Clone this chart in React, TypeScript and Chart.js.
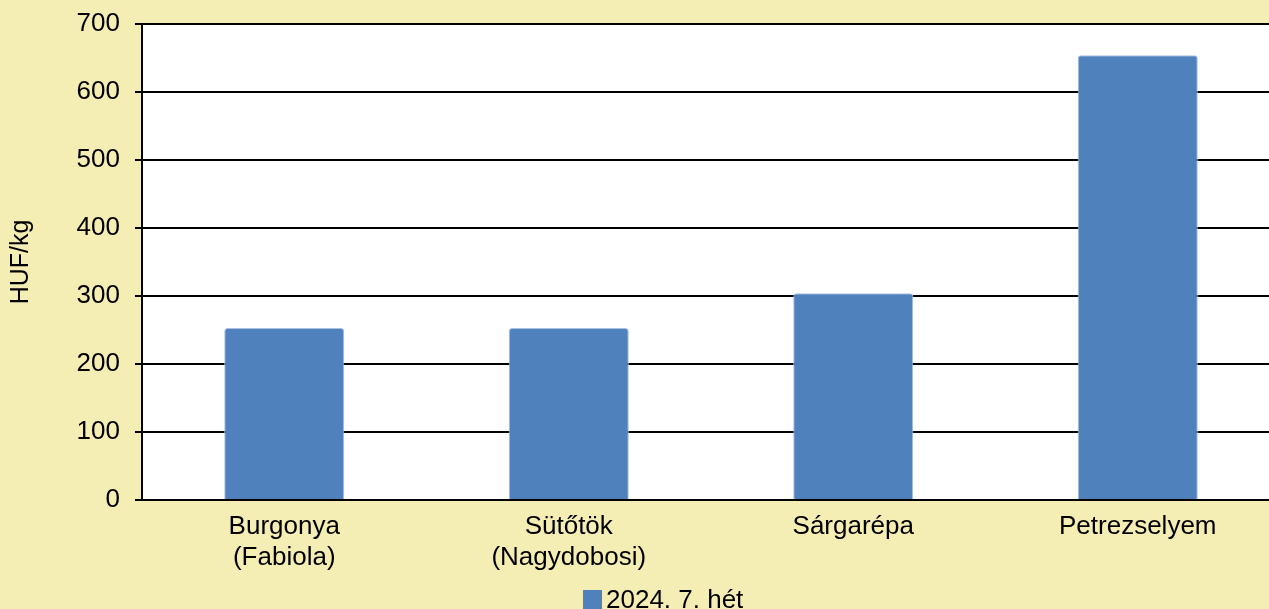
import React, { useEffect, useRef } from 'react';
import { Chart, registerables } from 'chart.js';

Chart.register(...registerables);

const categories: (string | string[])[] = [
  ['Burgonya', '(Fabiola)'],
  ['Sütőtök', '(Nagydobosi)'],
  'Sárgarépa',
  'Petrezselyem',
];
const seriesLabel = '2024. 7. hét';
const seriesValues = [253, 253, 304, 654];
const yMin = 0;
const yMax = 700;
const yStep = 100;
const yTitle = 'HUF/kg';

const BG = '#F5EEB4';
const BAR = '#4F81BD';
const FONT = "'Liberation Sans', Arial, sans-serif";

const areaPlugin = {
  id: 'areaBg',
  beforeDraw(chart: any) {
    const { ctx, chartArea } = chart;
    const { left, top, right, bottom } = chartArea;
    ctx.save();
    ctx.fillStyle = '#FFFFFF';
    ctx.fillRect(left, top, right - left, bottom - top);
    ctx.restore();
  },
};

// Legend drawn by hand so that the swatch sits close to its label, as in the reference
const legendPlugin = {
  id: 'bottomLegend',
  afterDraw(chart: any) {
    const { ctx, width, height } = chart;
    const ds = chart.data.datasets[0];
    const box = 19;
    const gap = 4;
    ctx.save();
    ctx.font = `26px ${FONT}`;
    const tw = ctx.measureText(ds.label).width;
    const total = box + gap + tw;
    const x0 = Math.round(width / 2 - total / 2 + 23);
    ctx.fillStyle = ds.backgroundColor;
    ctx.fillRect(x0, height - 19, box, box);
    ctx.fillStyle = '#000';
    ctx.textBaseline = 'alphabetic';
    ctx.textAlign = 'left';
    ctx.fillText(ds.label, x0 + box + gap, height - 1);
    ctx.restore();
  },
};

export default function App() {
  const ref = useRef<HTMLCanvasElement | null>(null);

  useEffect(() => {
    if (!ref.current) return;
    const chart = new Chart(ref.current, {
      type: 'bar',
      data: {
        labels: categories as any,
        datasets: [
          {
            label: seriesLabel,
            data: seriesValues,
            backgroundColor: BAR,
            borderColor: '#A9C1DF',
            borderWidth: 1,
            borderRadius: 3,
            categoryPercentage: 1,
            barPercentage: 0.422,
          },
        ],
      },
      options: {
        animation: false,
        responsive: false,
        devicePixelRatio: 1,
        layout: { padding: { top: 24, right: 0, bottom: 0, left: 0 } },
        plugins: {
          tooltip: { enabled: false },
          title: { display: false },
          legend: { display: false },
        },
        scales: {
          x: {
            grid: { display: false, drawTicks: false },
            border: { display: true, color: '#000', width: 2 },
            ticks: {
              color: '#000',
              font: { family: FONT, size: 26 },
              padding: 11,
              maxRotation: 0,
              autoSkip: false,
            },
            afterFit(scale: any) {
              scale.height = 109;
              scale.paddingLeft = 0;
              scale.paddingRight = 0;
            },
          },
          y: {
            min: yMin,
            max: yMax,
            ticks: {
              stepSize: yStep,
              color: '#000',
              font: { family: FONT, size: 26 },
              padding: 15,
            },
            grid: {
              color: '#000',
              lineWidth: 2,
              drawTicks: true,
              tickLength: 7,
            },
            border: { display: true, color: '#000', width: 2 },
            title: {
              display: true,
              text: yTitle,
              color: '#000',
              font: { family: FONT, size: 25 },
              padding: { top: 6, bottom: 0 },
            },
            afterFit(scale: any) {
              scale.width = 142;
              scale.paddingTop = 0;
              scale.paddingBottom = 0;
            },
          },
        },
      },
      plugins: [areaPlugin, legendPlugin],
    } as any);
    return () => chart.destroy();
  }, []);

  return (
    <div
      style={{
        position: 'fixed',
        left: 0,
        top: 0,
        width: 1269,
        height: 609,
        background: BG,
        overflow: 'hidden',
      }}
    >
      <canvas ref={ref} width={1280} height={609} style={{ display: 'block' }} />
    </div>
  );
}
